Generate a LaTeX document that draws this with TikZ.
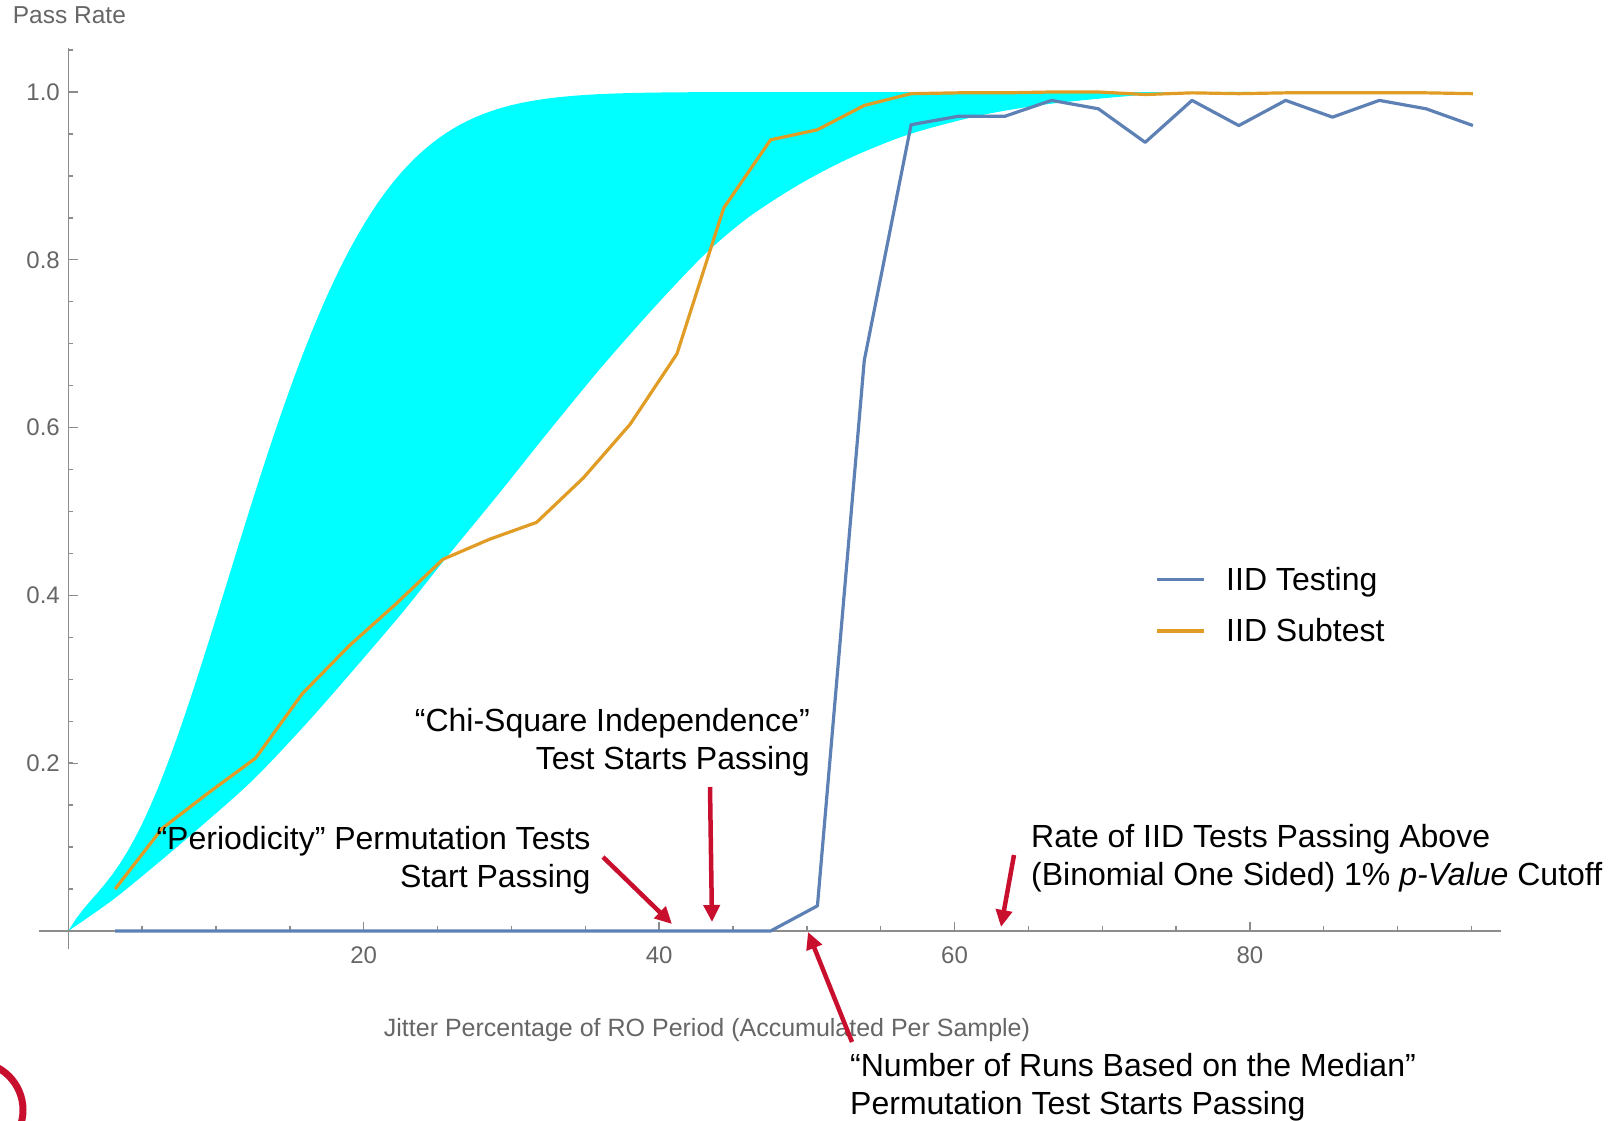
\documentclass[tikz,border=0pt]{standalone}
\usepackage{fontspec}
\setmainfont{Liberation Sans}
\usetikzlibrary{arrows.meta}
\definecolor{bandcyan}{RGB}{0,255,255}
\definecolor{iidblue}{RGB}{94,129,181}
\definecolor{iidorange}{RGB}{224,156,36}
\definecolor{notered}{RGB}{200,16,46}
\definecolor{axgray}{RGB}{140,140,140}
\definecolor{lblgray}{RGB}{102,102,102}
\tikzset{
  ax/.style     ={draw=axgray,line width=1.4pt},
  tck/.style    ={font=\fontsize{24}{28}\selectfont,text=lblgray,inner sep=0pt},
  note/.style   ={font=\fontsize{32}{38}\selectfont,inner sep=0pt,align=right},
  notel/.style  ={note,align=left},
  ser/.style    ={line width=3.2pt,line join=round},
  pointer/.style={-{Triangle[length=17pt,width=16pt]},line width=4.5pt,draw=notered},
}

\begin{document}
\begin{tikzpicture}[x=1pt,y=-1pt]
  \useasboundingbox (0,0) rectangle (1615,1121);
  \clip (0,0) rectangle (1615,1121);

  % plot frame: x in percent, y in pass rate
  \begin{scope}[shift={(68.3,931)},x=14.77pt,y=839pt]
    \fill[bandcyan] plot[domain=0:60,samples=121] (\x,{1-exp(-((\x/14.73)^2+0.032*\x*exp(-\x/2.5)))})
      -- (80,1)
      -- plot[smooth] coordinates {(80,1) (74,0.998) (67,0.987) (62,0.973) (57,0.95) (53,0.922)
        (49.5,0.89) (46,0.85) (43,0.805) (39.5,0.74) (36,0.67) (32.5,0.595) (29,0.518)
        (25.5,0.443) (22.5,0.377) (19,0.305) (16,0.245) (12.5,0.18) (9,0.125) (6,0.08)
        (3,0.037) (0,0)} -- cycle;

    % axes and ticks
    \draw[ax] (-2,0) -- (97,0);
    \draw[ax] (0,-0.021) -- (0,1.052);
    \foreach \t in {5,10,...,95} \draw[ax] (\t,0) -- ++(0,5pt);
    \foreach \t in {20,40,60,80} {
      \draw[ax] (\t,0) -- ++(0,9.5pt);
      \node[tck,anchor=base,yshift=-32.3pt] (xl\t) at (\t,0) {\t};
    }
    \foreach \v in {0.05,0.1,...,1.06} \draw[ax] (0,\v) -- ++(5pt,0);
    \foreach \v/\n in {0.2/2,0.4/4,0.6/6,0.8/8,1.0/10} {
      \draw[ax] (0,\v) -- ++(9.5pt,0);
      \node[tck,anchor=east,xshift=-8.3pt] (yl\n) at (0,\v) {\v};
    }

    % series
    \draw[ser,iidblue] (3.17,0) \foreach \v [count=\i from 2] in {0,0,0,0,0,0,0,0,0,0,0,0,0,0,
        0.03,0.68,0.961,0.971,0.971,0.99,0.98,0.94,0.99,0.96,0.99,0.97,0.99,0.98,0.96} { -- (3.17*\i,\v) };
    \draw[ser,iidorange] (3.17,0.05) \foreach \v [count=\i from 2] in {0.122,0.165,0.206,0.283,0.34,
        0.39,0.443,0.467,0.487,0.540,0.604,0.688,0.862,0.943,0.955,0.984,0.998,0.999,0.999,
        1.0,1.0,0.997,0.999,0.998,0.999,0.999,0.999,0.999,0.998} { -- (3.17*\i,\v) };
  \end{scope}

  % axis labels
  \node[tck,font=\fontsize{24.5}{28}\selectfont,anchor=base west] (ylab) at (12.7,24) {Pass Rate};
  \node[tck,font=\fontsize{25}{28}\selectfont,anchor=base] (xlab) at (707,1036.7) {Jitter Percentage of RO Period (Accumulated Per Sample)};

  % legend
  \coordinate (lg1a) at (1157,579.5); \coordinate (lg1b) at (1204,579.5);
  \coordinate (lg2a) at (1157,631);   \coordinate (lg2b) at (1204,631);
  \draw[ser,iidblue] (lg1a) -- (lg1b);
  \draw[ser,iidorange] (lg2a) -- (lg2b);
  \node[note,anchor=base west] (lgt1) at (1226,590.7) {IID Testing};
  \node[note,anchor=base west] (lgt2) at (1226,641.7) {IID Subtest};

  % annotations (base = last line)
  \node[note,anchor=base east] (per) at (590.7,887.5) {``Periodicity'' Permutation Tests\\Start Passing};
  \node[note,anchor=base east] (chi) at (810,769.3) {``Chi-Square Independence''\\Test Starts Passing};
  \node[notel,anchor=base west] (rate) at (1031,885.5) {Rate of IID Tests Passing Above\\(Binomial One Sided) 1\% \textit{p-Value} Cutoff};
  \node[notel,anchor=base west] (run) at (850,1114) {``Number of Runs Based on the Median''\\Permutation Test Starts Passing};

  \coordinate (per-s) at (603,857);   \coordinate (per-t) at (672,924);
  \coordinate (chi-s) at (710,787);   \coordinate (chi-t) at (712,922);
  \coordinate (run-s) at (852,1042);  \coordinate (run-t) at (808,932);
  \coordinate (rate-s) at (1014,855); \coordinate (rate-t) at (1001,927);
  \foreach \a in {per,chi,run,rate} \draw[pointer] (\a-s) -- (\a-t);

  % logo ring, cut by the page edge
  \draw[notered,line width=7pt] (-25,1110) circle[radius=48];
\end{tikzpicture}
\end{document}
